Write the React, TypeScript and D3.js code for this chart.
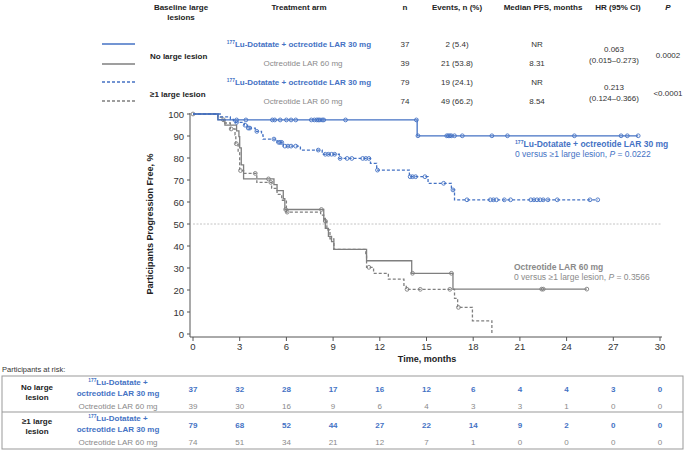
import React from 'react';
import * as d3 from 'd3';

// 色
const BLUE = '#4472c4';
const GRAY = '#7f7f7f';
const GRAY_TXT = '#8a8a8a';
const FONT = '"Liberation Sans", Arial, sans-serif';

// KM曲線 [時間, 無増悪生存率]
const luNoLargeSteps: [number, number][] = [[0, 100], [1.6, 97.3], [14.4, 90.1]];
const luNoLargeEnd = 28.6;
const luNoLargeCens = [2.8, 3.4, 5.1, 5.25, 5.6, 6.0, 6.3, 6.6, 7.6, 7.8, 7.95, 8.05, 8.15, 8.3, 8.4, 9.8, 14.35, 14.45, 16.3, 16.4, 16.5, 16.6, 16.8, 17.3, 19.2, 20.2, 24.5, 27.5, 27.9, 28.6];

const luLargeSteps: [number, number][] = [[0, 100], [1.75, 98.7], [2.4, 97.5], [2.6, 96.2], [3.3, 94.9], [3.5, 93.6], [4.0, 92.1], [4.4, 90.5], [4.5, 88.6], [5.4, 87.1], [5.8, 85.4], [6.9, 83.6], [8.3, 81.7], [9.4, 79.8], [11.4, 77.6], [11.8, 74.5], [13.9, 71.5], [15.1, 68.5], [16.6, 65.5], [16.8, 61.0]];
const luLargeEnd = 26.0;
const luLargeCens = [2.8, 3.35, 3.55, 3.65, 4.1, 5.2, 5.5, 5.6, 5.7, 5.9, 6.1, 6.3, 6.6, 8.05, 8.5, 8.7, 8.9, 9.1, 9.45, 9.9, 10.2, 10.9, 11.1, 11.3, 11.85, 13.95, 14.1, 14.3, 14.9, 16.1, 16.7, 17.6, 19.1, 19.3, 19.5, 20.0, 20.4, 21.7, 21.9, 22.1, 22.3, 22.5, 22.8, 23.4, 25.5, 26.0];

const octNoLargeSteps: [number, number][] = [[0, 100], [1.6, 97.4], [2.05, 94.9], [2.8, 92.3], [2.95, 89.7], [3.0, 84.6], [3.1, 76.9], [3.25, 70.5], [5.2, 67.9], [5.4, 65.2], [5.8, 61.5], [5.9, 56.6], [8.4, 52.6], [8.5, 48.0], [8.7, 44.4], [8.9, 42.0], [9.05, 38.5], [11.15, 33.3], [14.05, 27.6], [16.7, 20.4]];
const octNoLargeEnd = 25.3;
const octNoLargeCens = [0, 1.95, 4.85, 5.95, 8.25, 14.1, 16.6, 22.4, 22.5, 25.3];

const octLargeSteps: [number, number][] = [[0, 100], [1.6, 98.6], [1.95, 95.9], [2.4, 93.2], [2.7, 90.5], [2.75, 86.5], [2.9, 82.4], [3.0, 74.3], [3.25, 73.0], [4.1, 68.9], [5.05, 66.2], [5.4, 63.5], [5.7, 60.8], [6.0, 55.4], [8.2, 54.0], [8.4, 51.3], [8.6, 47.3], [8.8, 43.2], [9.05, 38.5], [11.1, 35.9], [11.15, 30.3], [11.6, 27.6], [12.55, 24.9], [13.55, 22.1], [13.7, 20.3], [16.8, 16.2], [17.0, 12.1], [17.95, 6.0], [19.2, 0]];
const octLargeEnd = 19.2;
const octLargeCens = [2.45, 2.78, 3.05, 4.0, 5.0, 6.05, 8.5, 11.3, 13.75, 14.6, 16.5, 17.05];

// 軸
const xTicks = [0, 3, 6, 9, 12, 15, 18, 21, 24, 27, 30];
const yTicks = [0, 10, 20, 30, 40, 50, 60, 70, 80, 90, 100];

// リスク集団
const riskNoLargeLu = [37, 32, 28, 17, 16, 12, 6, 4, 4, 3, 0];
const riskNoLargeOct = [39, 30, 16, 9, 6, 4, 3, 3, 1, 0, 0];
const riskLargeLu = [79, 68, 52, 44, 27, 22, 14, 9, 2, 0, 0];
const riskLargeOct = [74, 51, 34, 21, 12, 7, 1, 0, 0, 0, 0];

// 表
const colN = ['37', '39', '79', '74'];
const colEvents = ['2 (5.4)', '21 (53.8)', '19 (24.1)', '49 (66.2)'];
const colMedian = ['NR', '8.31', 'NR', '8.54'];
const colHR = [['0.063', '(0.015–0.273)'], ['0.213', '(0.124–0.366)']];
const colP = ['0.0002', '<0.0001'];

const x = d3.scaleLinear().domain([0, 30]).range([193, 660]);
const y = d3.scaleLinear().domain([0, 100]).range([334, 114]);

const survAt = (steps: [number, number][], t: number) => {
  let s = steps[0][1];
  for (const [tt, ss] of steps) if (tt <= t) s = ss;
  return s;
};

const stepLine = d3.line<[number, number]>().x(d => x(d[0])).y(d => y(d[1])).curve(d3.curveStepAfter);

function Curve({ steps, end, cens, color, dashed }: { steps: [number, number][]; end: number; cens: number[]; color: string; dashed?: boolean }) {
  const pts: [number, number][] = [...steps, [end, steps[steps.length - 1][1]]];
  return (
    <g>
      <path d={stepLine(pts) || ''} fill="none" stroke={color} strokeWidth={1.3} strokeDasharray={dashed ? '3,2' : undefined} />
      {cens.map((t, i) => (
        <circle key={i} cx={x(t)} cy={y(survAt(steps, t))} r={1.9} fill="none" stroke={color} strokeWidth={0.9} />
      ))}
    </g>
  );
}

function LuLabel({ xx, yy, anchor, size }: { xx: number; yy: number; anchor: string; size: number }) {
  return (
    <text x={xx} y={yy} textAnchor={anchor} fontSize={size} fontWeight="bold" fill={BLUE}>
      <tspan fontSize={size * 0.6} dy={-size * 0.35}>177</tspan>
      <tspan dy={size * 0.35}>Lu-Dotatate + octreotide LAR 30 mg</tspan>
    </text>
  );
}

export default function App() {
  const rowY = [47, 66, 85, 104];
  const riskCols = xTicks.map(t => x(t));
  return (
    <div style={{ position: 'absolute', left: 0, top: 0 }}>
      <svg width={685} height={451} style={{ fontFamily: FONT, display: 'block', background: '#fff' }}>
        {/* ヘッダー */}
        <g fontSize={8} fontWeight="bold" fill="#222" textAnchor="middle">
          <text x={181} y={10}>Baseline large</text>
          <text x={181} y={20}>lesions</text>
          <text x={299} y={10}>Treatment arm</text>
          <text x={405} y={10}>n</text>
          <text x={457} y={10}>Events, n (%)</text>
          <text x={543} y={10}>Median PFS, months</text>
          <text x={618} y={10}>HR (95% CI)</text>
          <text x={668} y={10} fontStyle="italic">P</text>
        </g>
        {/* 凡例線 */}
        <line x1={102} x2={135} y1={44} y2={44} stroke={BLUE} strokeWidth={1.3} />
        <line x1={102} x2={135} y1={64} y2={64} stroke={GRAY} strokeWidth={1.3} />
        <line x1={102} x2={135} y1={82} y2={82} stroke={BLUE} strokeWidth={1.3} strokeDasharray="3,2" />
        <line x1={102} x2={135} y1={101} y2={101} stroke={GRAY} strokeWidth={1.3} strokeDasharray="3,2" />
        <g fontSize={8} fontWeight="bold" fill="#222">
          <text x={150} y={59}>No large lesion</text>
          <text x={150} y={97}>≥1 large lesion</text>
        </g>
        {[0, 2].map(i => <LuLabel key={i} xx={299} yy={rowY[i]} anchor="middle" size={8} />)}
        {[1, 3].map(i => (
          <text key={i} x={303} y={rowY[i]} textAnchor="middle" fontSize={8} fill={GRAY_TXT}>Octreotide LAR 60 mg</text>
        ))}
        <g fontSize={8} fill="#333" textAnchor="middle">
          {rowY.map((ry, i) => (
            <g key={i}>
              <text x={405} y={ry}>{colN[i]}</text>
              <text x={457} y={ry}>{colEvents[i]}</text>
              <text x={537} y={ry}>{colMedian[i]}</text>
            </g>
          ))}
          {colHR.map((h, i) => (
            <g key={i}>
              <text x={614} y={i === 0 ? 52 : 90}>{h[0]}</text>
              <text x={614} y={i === 0 ? 63 : 101}>{h[1]}</text>
            </g>
          ))}
          <text x={668} y={58}>{colP[0]}</text>
          <text x={668} y={96}>{colP[1]}</text>
        </g>

        {/* 軸 */}
        <line x1={190} x2={190} y1={113} y2={337} stroke="#555" strokeWidth={1} />
        <line x1={190} x2={662} y1={337} y2={337} stroke="#555" strokeWidth={1} />
        {yTicks.map(t => (
          <g key={t}>
            <line x1={187} x2={190} y1={y(t)} y2={y(t)} stroke="#555" />
            <text x={184} y={y(t) + 3.5} textAnchor="end" fontSize={9.5} fill="#333">{t}</text>
          </g>
        ))}
        {xTicks.map(t => (
          <g key={t}>
            <line x1={x(t)} x2={x(t)} y1={337} y2={341} stroke="#555" />
            <text x={x(t)} y={350} textAnchor="middle" fontSize={9.5} fill="#333">{t}</text>
          </g>
        ))}
        <text transform="translate(153,224) rotate(-90)" textAnchor="middle" fontSize={9} fontWeight="bold" fill="#222">Participants Progression Free, %</text>
        <text x={427} y={362} textAnchor="middle" fontSize={9} fontWeight="bold" fill="#222">Time, months</text>

        {/* 中央値線 */}
        <line x1={x(0)} x2={662} y1={y(50)} y2={y(50)} stroke="#c4c4c4" strokeWidth={1} strokeDasharray="2,1.5" />

        <Curve steps={octLargeSteps} end={octLargeEnd} cens={octLargeCens} color={GRAY} dashed />
        <Curve steps={octNoLargeSteps} end={octNoLargeEnd} cens={octNoLargeCens} color={GRAY} />
        <Curve steps={luLargeSteps} end={luLargeEnd} cens={luLargeCens} color={BLUE} dashed />
        <Curve steps={luNoLargeSteps} end={luNoLargeEnd} cens={luNoLargeCens} color={BLUE} />

        {/* 注釈 */}
        <LuLabel xx={515} yy={147} anchor="start" size={8.5} />
        <text x={515} y={157} fontSize={8.5} fill={BLUE}>0 versus ≥1 large lesion, <tspan fontStyle="italic">P</tspan> = 0.0222</text>
        <text x={514} y={270} fontSize={8.5} fontWeight="bold" fill={GRAY_TXT}>Octreotide LAR 60 mg</text>
        <text x={514} y={280} fontSize={8.5} fill={GRAY_TXT}>0 versus ≥1 large lesion, <tspan fontStyle="italic">P</tspan> = 0.3566</text>

        {/* リスク表 */}
        <text x={2} y={372} fontSize={7.5} fill="#333">Participants at risk:</text>
        <rect x={2} y={376} width={681} height={73} fill="none" stroke="#999" strokeWidth={1} />
        <line x1={2} x2={683} y1={412} y2={412} stroke="#999" strokeWidth={1} />
        <g fontSize={8} fontWeight="bold" fill="#222" textAnchor="middle">
          <text x={37} y={390}>No large</text>
          <text x={37} y={400}>lesion</text>
          <text x={37} y={424}>≥1 large</text>
          <text x={37} y={434}>lesion</text>
        </g>
        {[385, 421].map(ty => (
          <g key={ty}>
            <text x={118} y={ty} textAnchor="middle" fontSize={8} fontWeight="bold" fill={BLUE}>
              <tspan fontSize={4.8} dy={-2.8}>177</tspan>
              <tspan dy={2.8}>Lu-Dotatate +</tspan>
            </text>
            <text x={118} y={ty + 11} textAnchor="middle" fontSize={8} fontWeight="bold" fill={BLUE}>octreotide LAR 30 mg</text>
            <text x={118} y={ty + 24} textAnchor="middle" fontSize={8} fill={GRAY_TXT}>Octreotide LAR 60 mg</text>
          </g>
        ))}
        {[
          { vals: riskNoLargeLu, yy: 392, lu: true },
          { vals: riskNoLargeOct, yy: 409, lu: false },
          { vals: riskLargeLu, yy: 428, lu: true },
          { vals: riskLargeOct, yy: 445, lu: false },
        ].map((r, i) => (
          <g key={i} fontSize={8} textAnchor="middle" fontWeight={r.lu ? 'bold' : 'normal'} fill={r.lu ? BLUE : GRAY_TXT}>
            {r.vals.map((v, j) => <text key={j} x={riskCols[j]} y={r.yy}>{v}</text>)}
          </g>
        ))}
      </svg>
    </div>
  );
}
